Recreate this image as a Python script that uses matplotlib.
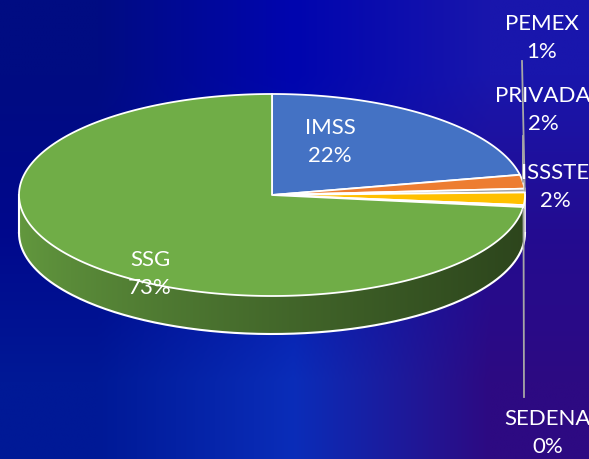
import numpy as np
import matplotlib
matplotlib.use("Agg")
import matplotlib.pyplot as plt
from matplotlib.patches import Polygon

labels = ["IMSS", "PRIVADA", "PEMEX", "ISSSTE", "SEDENA", "SSG"]
values = [21.8, 2.2, 0.6, 2.0, 0.3, 73.1]
colors = ["#4472C4", "#ED7D31", "#A5A5A5", "#FFC000", "#5B9BD5", "#70AD47"]

W, H = 589, 460
cx_px, cy_px = 272, 196      # centre of the top face in pixels
rx_px, ry_px = 253, 101      # ellipse radii in pixels
depth = 38 / ry_px           # side wall height in data units

fig = plt.figure(figsize=(W / 100, H / 100), dpi=100)
ax = fig.add_axes([0, 0, 1, 1])
xlim = (-cx_px / rx_px, (W - cx_px) / rx_px)
ylim = (-(H - cy_px) / ry_px, cy_px / ry_px)
ax.set_xlim(xlim)
ax.set_ylim(ylim)
ax.axis("off")


def px(x, y):
    return (x - cx_px) / rx_px, (cy_px - y) / ry_px


# background gradient
bg = np.array([
    [[0, 12, 130], [0, 5, 175], [25, 22, 172]],
    [[0, 8, 140], [5, 22, 172], [35, 12, 145]],
    [[0, 25, 150], [10, 45, 185], [45, 10, 130]],
]) / 255
ax.imshow(bg, extent=(xlim[0], xlim[1], ylim[0], ylim[1]), aspect="auto",
          interpolation="bilinear", zorder=0)

fr = np.array(values) / sum(values)
ends = np.cumsum(fr)
starts = ends - fr
t1 = 90 - starts * 360
t2 = 90 - ends * 360

# horizontal lighting for the side wall: light on the left, dark on the right
gx = np.linspace(-1, 1, 300)
light = 0.88 - 0.48 * ((gx + 1) / 2) ** 0.8

# side walls (front half only)
for a1, a2, c in zip(t1, t2, colors):
    lo, hi = max(a2, -180), min(a1, 0)
    if lo >= hi:
        continue
    tt = np.radians(np.linspace(lo, hi, 200))
    xs, ys = np.cos(tt), np.sin(tt)
    pts = np.column_stack([np.r_[xs, xs[::-1]], np.r_[ys, ys[::-1] - depth]])
    poly = Polygon(pts, closed=True, facecolor="none", edgecolor="none", zorder=2)
    ax.add_patch(poly)
    rgb = np.array(matplotlib.colors.to_rgb(c))
    img = (light[:, None] * rgb[None, :])[None, :, :]
    im = ax.imshow(img, extent=(-1, 1, -1 - depth, 0.05), aspect="auto",
                   interpolation="bilinear", zorder=2)
    im.set_clip_path(poly)

# side outline
tt = np.radians(np.linspace(-180, 0, 200))
ax.plot(np.cos(tt), np.sin(tt) - depth, color="white", lw=1.5, zorder=3)
ax.plot([-1, -1], [0, -depth], color="white", lw=1.5, zorder=3)
ax.plot([1, 1], [0, -depth], color="white", lw=1.2, zorder=3)

# top face
for a1, a2, c in zip(t1, t2, colors):
    tt = np.radians(np.linspace(a1, a2, max(3, int(abs(a1 - a2)) * 2)))
    pts = np.column_stack([np.r_[0, np.cos(tt)], np.r_[0, np.sin(tt)]])
    ax.add_patch(Polygon(pts, closed=True, facecolor=c, edgecolor="white",
                         lw=1.3, joinstyle="round", zorder=4))

# labels (block centres in pixels)
label_pos = [(330, 142), (543, 110), (542, 38), (555, 187), (548, 433), (150, 274)]
txt = dict(color="white", fontsize=16, family=["Lato", "DejaVu Sans"],
           ha="center", va="center", linespacing=1.45, zorder=6)
for lab, v, (lx, ly) in zip(labels, values, label_pos):
    x, y = px(lx, ly)
    ax.text(x, y, f"{lab}\n{round(v):.0f}%", **txt)

# leader lines for the small slices
mids = np.radians((t1 + t2) / 2)
leaders = {"PRIVADA": (523, 137), "PEMEX": (522, 62), "SEDENA": (524, 398)}
for lab, (lx, ly) in leaders.items():
    i = labels.index(lab)
    ex, ey = np.cos(mids[i]), np.sin(mids[i])
    if lab == "SEDENA":
        ey = ey - depth * 0.1
    x, y = px(lx, ly)
    ax.plot([x, ex], [y, ey], color="#A6A6A6", lw=1.3, zorder=5)

fig.savefig("out.png", dpi=100)
